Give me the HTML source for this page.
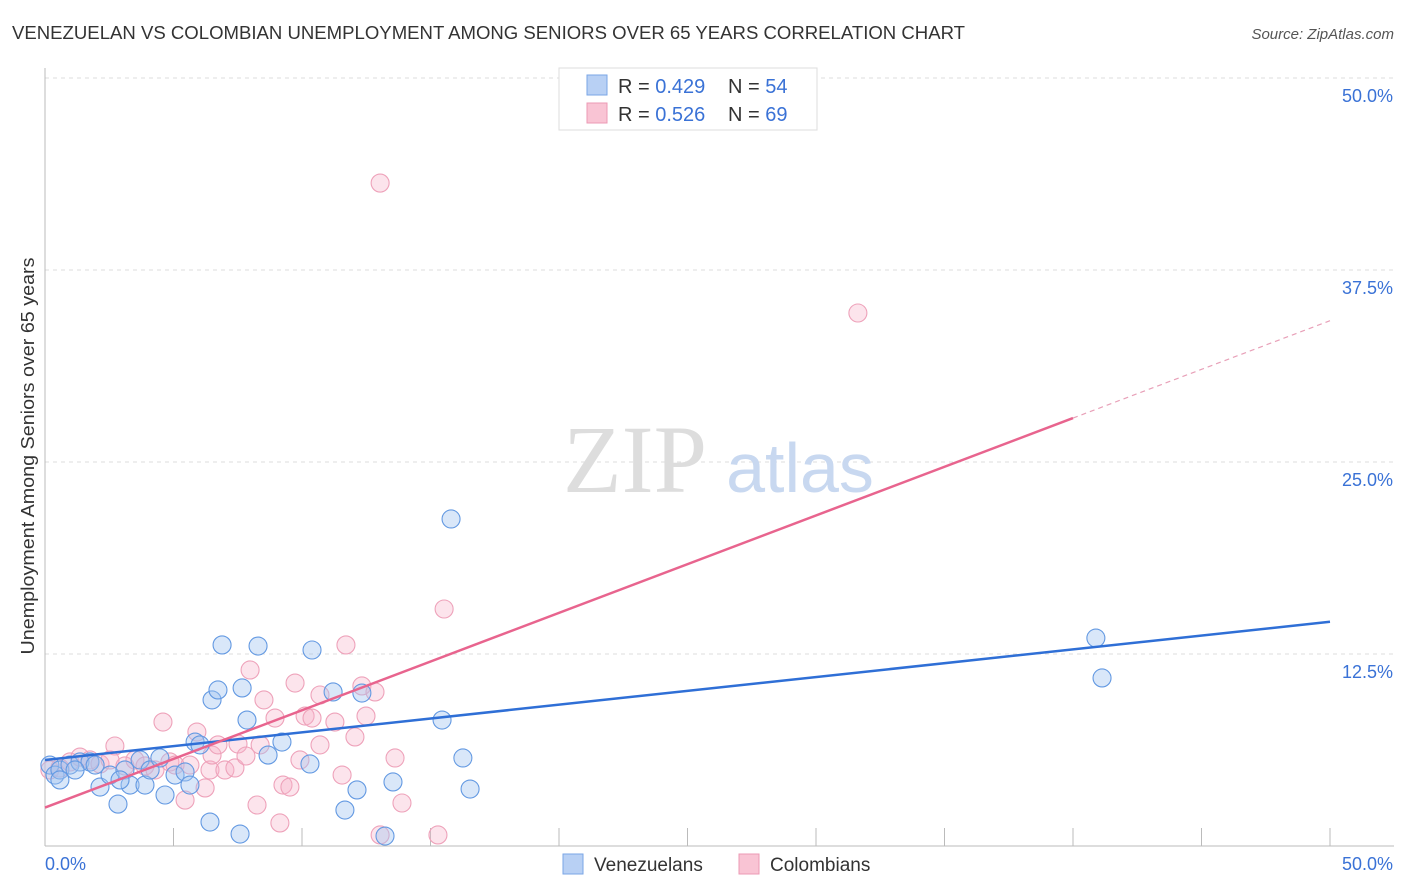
<!DOCTYPE html>
<html><head><meta charset="utf-8"><style>
body{margin:0;background:#fff;font-family:"Liberation Sans",sans-serif;}
svg{display:block}
</style></head><body>
<svg id="chart" width="1406" height="892">
<text x="12" y="39" font-size="18" fill="#333" textLength="953" lengthAdjust="spacingAndGlyphs">VENEZUELAN VS COLOMBIAN UNEMPLOYMENT AMONG SENIORS OVER 65 YEARS CORRELATION CHART</text>
<text x="1394" y="39" font-size="15" fill="#555" font-style="italic" text-anchor="end">Source: ZipAtlas.com</text>
<g id="grid"></g>
<text x="635" y="492" font-size="96" fill="#ddd" font-family="Liberation Serif,serif" text-anchor="middle">ZIP</text>
<text x="800" y="492" font-size="70" fill="#c8d8f0" text-anchor="middle">atlas</text>
<g id="pts"></g>
<g id="lines"></g>
<text transform="translate(34,456) rotate(-90)" font-size="18.5" fill="#333" text-anchor="middle" textLength="397" lengthAdjust="spacingAndGlyphs">Unemployment Among Seniors over 65 years</text>
<g>
<rect x="559" y="68" width="258" height="62" fill="#fff" stroke="#ddd"/>
<rect x="587" y="75" width="20" height="20" fill="#b8d0f4" stroke="#7aa6e6"/>
<rect x="587" y="103" width="20" height="20" fill="#f9c4d4" stroke="#ec9ab4"/>
<text x="618" y="93" font-size="20" fill="#333">R = <tspan fill="#3a72d6">0.429</tspan></text>
<text x="728" y="93" font-size="20" fill="#333">N = <tspan fill="#3a72d6">54</tspan></text>
<text x="618" y="121" font-size="20" fill="#333">R = <tspan fill="#3a72d6">0.526</tspan></text>
<text x="728" y="121" font-size="20" fill="#333">N = <tspan fill="#3a72d6">69</tspan></text>
</g>
<g>
<rect x="563" y="854" width="20" height="20" fill="#b8d0f4" stroke="#7aa6e6"/>
<text x="594" y="871" font-size="19" fill="#333">Venezuelans</text>
<rect x="739" y="854" width="20" height="20" fill="#f9c4d4" stroke="#ec9ab4"/>
<text x="770" y="871" font-size="19" fill="#333">Colombians</text>
</g>
</svg>
<script>
const xTicks=[0,5,10,15,20,25,30,35,40,45,50];
const yTicks=[12.5,25,37.5,50];
const yTickLabels=["12.5%","25.0%","37.5%","50.0%"];
const venX=[0.19,0.39,0.58,0.97,1.36,1.75,2.14,2.53,2.84,3.11,3.31,3.70,3.89,4.09,4.47,4.67,5.06,5.45,5.64,5.84,6.03,6.42,6.50,6.73,6.89,7.59,7.67,7.86,8.29,8.68,9.22,10.31,10.39,11.21,11.67,12.14,12.33,13.23,13.54,15.45,15.80,16.26,16.54,40.89,41.13,0.58,1.17,1.95,2.92];
const venY=[5.27,4.62,4.95,5.27,5.47,5.47,3.84,4.62,2.73,4.95,3.97,5.60,3.97,4.95,5.73,3.32,4.62,4.82,3.97,6.77,6.58,1.56,9.51,10.16,13.09,0.78,10.29,8.20,13.02,5.92,6.77,5.34,12.76,10.03,2.34,3.65,9.96,0.65,4.17,8.20,21.29,5.73,3.71,13.54,10.94,4.30,4.95,5.27,4.30];
const colX=[0.19,0.58,0.97,1.36,1.75,2.14,2.53,2.72,3.11,3.50,3.89,4.28,4.59,4.86,5.06,5.45,5.64,5.91,6.23,6.42,6.50,6.73,7.00,7.39,7.51,7.82,7.98,8.25,8.37,8.52,8.95,9.14,9.26,9.53,9.73,9.92,10.12,10.39,10.70,10.70,11.28,11.56,11.71,12.06,12.33,12.49,12.84,13.04,13.04,13.62,13.89,15.29,15.53,31.63];
const colY=[4.95,5.08,5.47,5.79,5.60,5.34,5.60,6.51,5.21,5.60,5.21,4.95,8.07,5.47,5.27,2.99,5.27,7.42,3.78,4.95,5.92,6.58,4.95,5.08,6.64,5.86,11.46,2.67,6.58,9.51,8.33,1.50,3.97,3.84,10.61,5.60,8.46,8.33,6.58,9.83,8.07,4.62,13.09,7.10,10.42,8.46,10.03,0.72,43.16,5.73,2.80,0.72,15.43,34.70];
const venTrend=[5.6,14.6];
const colTrend=[2.5,34.2];
const colSolidEnd=40;
const X=v=>45+v*25.7, Y=v=>846-v*15.36;
const NS="http://www.w3.org/2000/svg";
function mk(t,a,p){const e=document.createElementNS(NS,t);for(const k in a)e.setAttribute(k,a[k]);p.appendChild(e);return e;}
const g=document.getElementById('grid');
yTicks.forEach((t,i)=>{
 const l=mk('line',{x1:45,x2:1394,y1:Y(t),y2:Y(t),stroke:'#ddd','stroke-dasharray':'4,4'},g);
 
 
 const tx=mk('text',{x:1393,y:Y(t)+24,'font-size':18,fill:'#3a72d6','text-anchor':'end'},g);tx.textContent=yTickLabels[i];
 
 
});
mk('line',{x1:45,x2:45,y1:68,y2:846,stroke:'#bbb'},g);
mk('line',{x1:45,x2:1394,y1:846,y2:846,stroke:'#bbb'},g);
xTicks.forEach(t=>{const l=mk('line',{x1:X(t),x2:X(t),y1:828,y2:846,stroke:'#bbb'},g);
 
 });
let t1=mk('text',{x:45,y:870,'font-size':18,fill:'#3a72d6'},g);t1.textContent='0.0%';


let t2=mk('text',{x:1393,y:870,'font-size':18,fill:'#3a72d6','text-anchor':'end'},g);t2.textContent='50.0%';


const p=document.getElementById('pts');
colX.forEach((x,i)=>{const c=mk('circle',{cx:X(x),cy:Y(colY[i]),r:9,fill:'rgba(246,178,200,0.35)',stroke:'#eea2ba','stroke-width':1.1},p);
 
 });
venX.forEach((x,i)=>{const c=mk('circle',{cx:X(x),cy:Y(venY[i]),r:9,fill:'rgba(160,194,240,0.4)',stroke:'#6399e2','stroke-width':1.1},p);
 
 });
const L=document.getElementById('lines');
let a=mk('line',{x1:X(0),y1:Y(venTrend[0]),x2:X(50),y2:Y(venTrend[1]),stroke:'#2f6fd6','stroke-width':2.5},L);


const cy=v=>colTrend[0]+(colTrend[1]-colTrend[0])*v/50;
let b=mk('line',{x1:X(0),y1:Y(cy(0)),x2:X(colSolidEnd),y2:Y(cy(colSolidEnd)),stroke:'#e8648e','stroke-width':2.5},L);


let d=mk('line',{x1:X(colSolidEnd),y1:Y(cy(colSolidEnd)),x2:X(50),y2:Y(cy(50)),stroke:'#e8a0b8','stroke-width':1.2,'stroke-dasharray':'5,4'},L);


</script>
</body></html>
